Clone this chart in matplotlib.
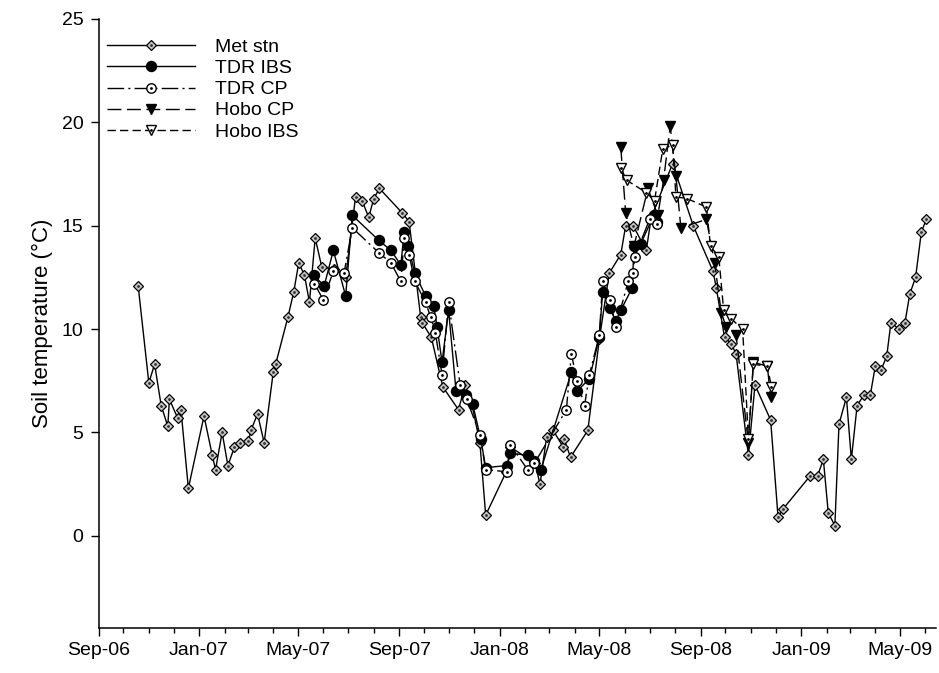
import pandas as pd
import matplotlib
matplotlib.use('Agg')
import matplotlib.pyplot as plt
import matplotlib.dates as mdates

plt.rcParams['font.family'] = ['Liberation Sans', 'DejaVu Sans']

# Estación meteorológica
met_dates = ['2006-10-19', '2006-11-01', '2006-11-08', '2006-11-16', '2006-11-24', '2006-11-26',
             '2006-12-06', '2006-12-10', '2006-12-19', '2007-01-07', '2007-01-17', '2007-01-21',
             '2007-01-29', '2007-02-05', '2007-02-13', '2007-02-20', '2007-03-02', '2007-03-05',
             '2007-03-13', '2007-03-21', '2007-04-01', '2007-04-04', '2007-04-19', '2007-04-26',
             '2007-05-02', '2007-05-09', '2007-05-15', '2007-05-22', '2007-05-30', '2007-06-14',
             '2007-06-28', '2007-07-10', '2007-07-18', '2007-07-26', '2007-08-01', '2007-08-08',
             '2007-09-05', '2007-09-13', '2007-09-27', '2007-09-29', '2007-10-10', '2007-10-24',
             '2007-11-12', '2007-11-20', '2007-11-28', '2007-12-08', '2007-12-15', '2008-01-09',
             '2008-01-14', '2008-02-13', '2008-02-19', '2008-02-27', '2008-03-06', '2008-03-18',
             '2008-03-19', '2008-03-27', '2008-04-17', '2008-05-01', '2008-05-13', '2008-05-27',
             '2008-06-02', '2008-06-11', '2008-06-27', '2008-07-03', '2008-07-29', '2008-08-23',
             '2008-09-16', '2008-09-20', '2008-09-30', '2008-10-08', '2008-10-14', '2008-10-29',
             '2008-11-06', '2008-11-25', '2008-12-04', '2008-12-10', '2009-01-12', '2009-01-21',
             '2009-01-28', '2009-02-03', '2009-02-11', '2009-02-16', '2009-02-25', '2009-03-03',
             '2009-03-10', '2009-03-18', '2009-03-26', '2009-04-01', '2009-04-08', '2009-04-15',
             '2009-04-20', '2009-04-30', '2009-05-07', '2009-05-13', '2009-05-20', '2009-05-27',
             '2009-06-02']
met_temp = [12.1, 7.4, 8.3, 6.3, 5.3, 6.6,
            5.7, 6.1, 2.3, 5.8, 3.9, 3.2,
            5.0, 3.4, 4.3, 4.5, 4.6, 5.1,
            5.9, 4.5, 7.9, 8.3, 10.6, 11.8,
            13.2, 12.6, 11.3, 14.4, 13.0, 12.9,
            12.5, 16.4, 16.2, 15.4, 16.3, 16.8,
            15.6, 15.2, 10.6, 10.3, 9.6, 7.2,
            6.1, 7.3, 6.4, 4.5, 1.0, 3.1,
            4.3, 3.5, 2.5, 4.8, 5.1, 4.3,
            4.7, 3.8, 5.1, 9.5, 12.7, 13.6,
            15.0, 15.0, 13.8, 15.4, 18.0, 15.0,
            12.8, 12.0, 9.6, 9.3, 8.8, 3.9,
            7.3, 5.6, 0.9, 1.3, 2.9, 2.9,
            3.7, 1.1, 0.5, 5.4, 6.7, 3.7,
            6.3, 6.8, 6.8, 8.2, 8.0, 8.7,
            10.3, 10.0, 10.3, 11.7, 12.5, 14.7,
            15.3]

# TDR IBS
tdr_ibs_dates = ['2007-05-20', '2007-06-02', '2007-06-13', '2007-06-28', '2007-07-06', '2007-08-07',
                 '2007-08-22', '2007-09-03', '2007-09-07', '2007-09-12', '2007-09-20', '2007-10-03',
                 '2007-10-13', '2007-10-17', '2007-10-23', '2007-10-31', '2007-11-09', '2007-11-21',
                 '2007-11-29', '2007-12-09', '2007-12-15', '2008-01-10', '2008-01-14', '2008-02-04',
                 '2008-02-12', '2008-02-20', '2008-03-28', '2008-04-04', '2008-04-19', '2008-05-01',
                 '2008-05-05', '2008-05-14', '2008-05-21', '2008-05-27', '2008-06-10', '2008-06-12',
                 '2008-06-20', '2008-07-06', '2008-07-10']
tdr_ibs_temp = [12.6, 12.1, 13.8, 11.6, 15.5, 14.3,
                13.8, 13.1, 14.7, 14.0, 12.7, 11.6,
                11.1, 10.1, 8.4, 10.9, 7.0, 6.8,
                6.4, 4.7, 3.3, 3.4, 4.0, 3.9,
                3.6, 3.2, 7.9, 7.0, 7.6, 9.6,
                11.8, 11.0, 10.4, 10.9, 12.0, 14.0,
                14.1, 15.5, 15.2]

# TDR CP
tdr_cp_dates = ['2007-05-21', '2007-06-01', '2007-06-13', '2007-06-26', '2007-07-06', '2007-08-07',
                '2007-08-22', '2007-09-03', '2007-09-07', '2007-09-13', '2007-09-20', '2007-10-03',
                '2007-10-09', '2007-10-15', '2007-10-23', '2007-10-31', '2007-11-14', '2007-11-22',
                '2007-12-08', '2007-12-15', '2008-01-10', '2008-01-14', '2008-02-04', '2008-02-12',
                '2008-03-22', '2008-03-28', '2008-04-04', '2008-04-13', '2008-04-19', '2008-05-01',
                '2008-05-05', '2008-05-14', '2008-05-21', '2008-06-05', '2008-06-11', '2008-06-13',
                '2008-07-01', '2008-07-10']
tdr_cp_temp = [12.2, 11.4, 12.8, 12.7, 14.9, 13.7,
               13.2, 12.3, 14.4, 13.6, 12.3, 11.3,
               10.6, 9.8, 7.8, 11.3, 7.3, 6.6,
               4.9, 3.2, 3.1, 4.4, 3.2, 3.5,
               6.1, 8.8, 7.5, 6.3, 7.8, 9.7,
               12.3, 11.4, 10.1, 12.3, 12.7, 13.5,
               15.3, 15.1]

# Hobo CP
hobo_cp_dates = ['2008-05-27', '2008-06-02', '2008-06-12', '2008-06-29', '2008-07-11', '2008-07-18',
                 '2008-07-26', '2008-08-02', '2008-08-08', '2008-09-08', '2008-09-18', '2008-09-26',
                 '2008-10-02', '2008-10-14', '2008-10-29', '2008-11-04', '2008-11-21', '2008-11-25']
hobo_cp_temp = [18.8, 15.6, 14.0, 16.8, 15.5, 17.2,
                19.8, 17.4, 14.9, 15.3, 13.2, 10.8,
                10.1, 9.7, 4.5, 8.4, 8.2, 6.7]

# Hobo IBS
hobo_ibs_dates = ['2008-05-27', '2008-06-03', '2008-06-27', '2008-07-07', '2008-07-17', '2008-07-29',
                  '2008-08-02', '2008-08-16', '2008-09-08', '2008-09-13', '2008-09-23', '2008-09-29',
                  '2008-10-08', '2008-10-22', '2008-10-29', '2008-11-04', '2008-11-21', '2008-11-26']
hobo_ibs_temp = [17.8, 17.2, 16.6, 16.2, 18.7, 18.9,
                 16.4, 16.3, 15.9, 14.0, 13.5, 10.9,
                 10.5, 10.0, 4.7, 8.3, 8.2, 7.2]

met_x = pd.to_datetime(met_dates)
tdr_ibs_x = pd.to_datetime(tdr_ibs_dates)
tdr_cp_x = pd.to_datetime(tdr_cp_dates)
hobo_cp_x = pd.to_datetime(hobo_cp_dates)
hobo_ibs_x = pd.to_datetime(hobo_ibs_dates)

fig = plt.figure(figsize=(9.39, 6.73), dpi=100)
ax = fig.add_axes([0.105, 0.067, 0.892, 0.905])

lw = 1.0
met_line, = ax.plot(met_x, met_temp, '-', color='k', lw=lw, marker='D', ms=4.8,
                    mfc='#c4c4c4', mec='k', mew=0.9)
met_dot, = ax.plot(met_x, met_temp, ls='none', marker='.', ms=2, color='#333333')

ibs_line, = ax.plot(tdr_ibs_x, tdr_ibs_temp, '-', color='k', lw=lw, marker='o', ms=7.2,
                    mfc='k', mec='k')

cp_line, = ax.plot(tdr_cp_x, tdr_cp_temp, color='k', lw=lw, dashes=(12, 3, 1.5, 3),
                   marker='o', ms=6.8, mfc='white', mec='k', mew=1.0)
cp_dot, = ax.plot(tdr_cp_x, tdr_cp_temp, ls='none', marker='.', ms=2, color='k')

hcp_line, = ax.plot(hobo_cp_x, hobo_cp_temp, color='k', lw=lw, dashes=(10, 4),
                    marker='v', ms=7.5, mfc='k', mec='k')

hibs_line, = ax.plot(hobo_ibs_x, hobo_ibs_temp, color='k', lw=lw, dashes=(6, 3),
                     marker='v', ms=7.5, mfc='white', mec='k', mew=1.0)
hibs_dot, = ax.plot(hobo_ibs_x, hobo_ibs_temp, ls='none', marker='.', ms=2, color='k')

ax.legend([(met_line, met_dot), ibs_line, (cp_line, cp_dot), hcp_line, (hibs_line, hibs_dot)],
          ['Met stn', 'TDR IBS', 'TDR CP', 'Hobo CP', 'Hobo IBS'],
          loc='upper left', bbox_to_anchor=(-0.006, 0.99), frameon=False, fontsize=14,
          handlelength=4.5, handletextpad=1.05, labelspacing=0.18, borderaxespad=0.3)

# Ejes
ax.set_xlim(pd.Timestamp('2006-09-01'), pd.Timestamp('2009-06-14'))
ax.set_ylim(-4.45, 25)
ax.set_yticks([0, 5, 10, 15, 20, 25])
ax.xaxis.set_major_locator(mdates.MonthLocator(bymonth=[1, 5, 9]))
ax.xaxis.set_major_formatter(mdates.DateFormatter('%b-%y'))
ax.xaxis.set_minor_locator(mdates.MonthLocator())
ax.tick_params(axis='both', which='major', direction='out', length=6, width=1,
               labelsize=14, pad=4)
ax.tick_params(axis='x', which='minor', direction='out', length=3.5, width=1)
ax.tick_params(axis='y', which='major', pad=5)
ax.spines['top'].set_visible(False)
ax.spines['right'].set_visible(False)
ax.spines['left'].set_linewidth(1.1)
ax.spines['bottom'].set_linewidth(1.1)
ax.set_ylabel('Soil temperature (°C)', fontsize=16, labelpad=6)

fig.savefig('out.png', dpi=100)
